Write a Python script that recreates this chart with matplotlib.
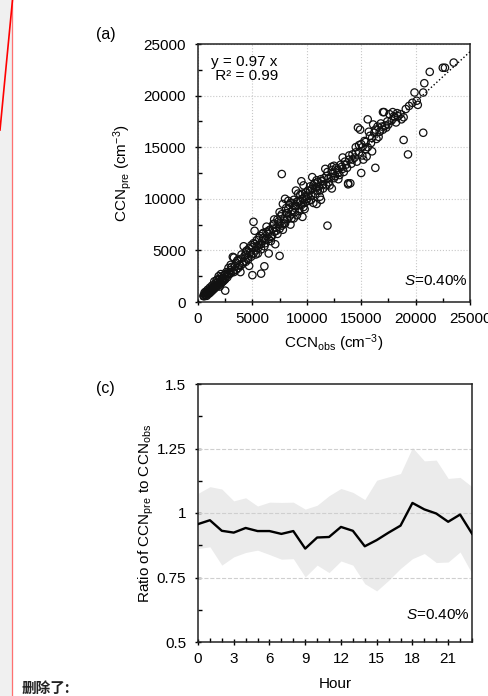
import matplotlib.pyplot as plt
from matplotlib.lines import Line2D
from matplotlib.patches import Rectangle

plt.rcParams['font.family'] = ['Liberation Sans', 'DejaVu Sans']
plt.rcParams['mathtext.fontset'] = 'custom'
plt.rcParams['mathtext.rm'] = 'Liberation Sans'
plt.rcParams['mathtext.it'] = 'Liberation Sans:italic'
plt.rcParams['mathtext.default'] = 'regular'

obsK = [0.5, 0.6, 0.7, 0.8, 0.9, 1.0, 1.1, 1.2, 1.3, 1.4, 1.5, 1.6, 1.7, 1.8, 1.9, 2.0, 2.1, 2.2, 2.3, 2.4,
        2.5, 2.6, 2.7, 2.8, 2.9, 3.0, 0.6, 0.8, 1.0, 1.2, 1.4, 1.6, 1.8, 2.0, 2.2, 2.4, 0.7, 0.9, 1.1, 1.3,
        1.5, 1.7, 1.9, 2.1, 2.3, 2.5, 2.5,
        3.2, 3.4, 3.5, 3.6, 3.8, 4.0, 4.1, 4.3, 4.4, 4.5, 4.6, 4.8, 4.9, 5.0, 5.1, 5.2, 5.3, 5.4, 5.5, 5.6,
        5.7, 5.8, 5.9, 6.0, 6.1, 3.3, 3.9, 4.2, 4.7, 5.0, 5.2, 3.0, 3.7, 4.4, 4.9, 5.5, 5.9,
        6.2, 6.4, 6.5, 6.6, 6.8, 6.9, 7.0, 7.2, 7.3, 7.4, 7.5, 7.6, 7.7, 7.8, 7.9, 8.0, 8.1, 8.2, 8.3, 8.4,
        8.5, 8.6, 8.7, 8.8, 8.9, 9.0, 9.1, 9.2, 9.3, 9.4, 9.5, 9.6, 9.7, 9.8, 9.9, 10.0, 6.3, 6.7, 7.1, 7.5,
        8.0, 8.5, 8.8, 9.0, 9.5, 6.5, 7.0, 7.8, 8.3, 9.2, 9.8,
        10.1, 10.2, 10.3, 10.4, 10.5, 10.6, 10.7, 10.8, 10.9, 11.0, 11.1, 11.2, 11.4, 11.5, 11.6, 11.8, 11.9,
        12.0, 12.2, 12.3, 12.4, 12.6, 12.8, 13.0, 13.2, 13.4, 13.5, 13.7, 13.9, 14.0, 14.1, 14.2, 13.8, 12.9,
        11.7, 10.9, 10.5, 12.5, 13.3,
        14.4, 14.5, 14.6, 14.8, 15.0, 15.1, 15.3, 15.4, 15.6, 15.8, 15.9, 16.0, 16.2, 16.4, 16.5, 16.7, 16.8,
        17.0, 17.2, 17.4, 17.6, 17.8, 18.0, 18.2, 18.4, 18.7, 18.9, 19.1, 19.4, 19.7, 20.1, 14.9, 15.2, 16.1,
        16.6, 17.1, 17.3, 17.9, 18.6, 15.5,
        7.7, 11.9, 5.1, 7.5, 6.1, 5.8, 3.2, 20.7, 19.3, 18.9, 21.3, 22.5, 22.7, 23.5, 20.7, 19.9, 20.8, 16.3,
        15.0, 15.6, 14.7, 9.6, 11.3, 12.3, 13.8, 18.3, 17.0, 20.2,
        3.1, 3.3, 3.5, 3.7, 3.9, 4.0, 4.2, 4.4, 4.6, 4.7, 4.9, 5.1, 5.3, 5.4, 5.6, 5.8, 6.0, 6.2, 6.3, 6.5,
        6.7, 6.9, 7.0, 7.2, 7.3, 7.5, 7.7, 7.9, 8.1, 8.2, 8.4, 8.6, 8.7, 8.9, 9.1, 9.3, 9.4, 9.6, 9.7, 9.9,
        10.1, 10.3, 10.4, 10.6, 10.8, 11.0, 11.2, 11.3, 11.5, 11.8, 12.0, 12.1, 12.3, 12.5, 12.7, 12.9, 13.1,
        13.3, 13.6, 13.9, 14.2, 14.5, 14.8, 15.1, 15.4, 15.7, 16.0, 16.3, 16.9, 17.5, 18.1,
        1.0, 1.2, 1.4, 1.6, 1.8, 2.0, 2.2, 2.6, 2.8, 3.0, 0.55, 0.65, 0.75, 0.85]
preK = [0.6, 0.7, 0.6, 0.9, 0.8, 1.1, 0.9, 1.3, 1.1, 1.5, 1.3, 1.8, 1.5, 1.9, 1.6, 2.2, 1.8, 2.5, 2.0, 2.6,
        2.2, 2.9, 2.4, 3.3, 2.7, 2.8, 0.9, 0.6, 0.8, 1.0, 1.2, 1.4, 2.2, 1.5, 1.9, 2.1, 1.0, 1.2, 1.4, 1.6,
        2.0, 2.1, 2.5, 2.7, 2.3, 2.7, 1.1,
        3.0, 3.5, 3.1, 4.0, 3.6, 4.2, 3.7, 4.5, 3.9, 5.0, 4.3, 4.8, 4.4, 5.3, 4.7, 5.6, 5.0, 6.0, 5.2, 5.5,
        6.4, 5.6, 5.9, 6.2, 5.4, 4.3, 2.9, 5.4, 3.5, 2.6, 6.9, 3.6, 3.3, 4.6, 5.5, 4.7, 6.6,
        6.0, 6.6, 6.1, 7.0, 6.4, 7.5, 6.8, 7.2, 6.6, 7.8, 7.1, 8.3, 7.4, 9.5, 8.0, 7.6, 8.6, 8.0, 9.0, 8.3,
        9.6, 8.5, 8.9, 9.9, 8.7, 9.3, 8.4, 9.8, 9.0, 10.4, 9.4, 10.0, 11.3, 9.6, 10.6, 10.0, 7.3, 5.9, 5.6, 8.7,
        10.0, 7.5, 8.1, 10.8, 11.7, 4.7, 8.0, 7.0, 9.8, 10.5, 9.0,
        10.8, 9.8, 11.2, 10.3, 11.0, 9.6, 11.5, 10.5, 11.8, 10.8, 11.2, 10.2, 11.7, 11.0, 12.0, 11.3, 12.6,
        11.6, 12.1, 11.0, 12.5, 12.2, 12.8, 12.3, 13.1, 12.6, 13.6, 13.0, 13.8, 11.5, 13.4, 14.3, 11.4, 11.9,
        12.9, 9.5, 12.1, 13.2, 14.0,
        14.0, 15.0, 13.6, 14.5, 15.3, 14.2, 15.6, 14.8, 15.0, 16.1, 15.4, 14.6, 16.4, 15.8, 17.0, 16.5, 17.3,
        16.7, 17.1, 17.5, 18.2, 17.6, 18.0, 17.4, 18.0, 17.7, 17.9, 18.7, 19.0, 19.3, 19.5, 16.7, 13.8, 17.2,
        16.0, 18.4, 16.9, 18.4, 18.2, 14.1,
        12.4, 7.4, 7.77, 4.47, 3.46, 2.75, 4.37, 16.4, 14.3, 15.7, 22.3, 22.7, 22.7, 23.2, 20.3, 20.3, 21.2,
        13.0, 12.5, 17.7, 16.9, 8.25, 9.9, 13.1, 11.5, 18.3, 18.4, 19.1,
        3.4, 2.9, 3.8, 4.1, 3.5, 4.6, 3.9, 4.9, 4.1, 5.2, 4.6, 5.7, 4.6, 5.4, 6.2, 5.1, 6.7, 5.7, 6.8, 6.9,
        6.3, 7.1, 7.6, 6.9, 8.0, 7.5, 8.5, 7.6, 9.1, 8.6, 9.4, 8.1, 9.6, 9.3, 9.7, 8.8, 9.8, 10.5, 9.2, 10.2,
        10.3, 10.8, 9.9, 11.3, 11.1, 11.6, 10.8, 11.9, 11.4, 12.2, 12.0, 11.3, 12.8, 12.0, 13.0, 12.5, 13.3,
        12.9, 13.3, 14.2, 13.8, 14.5, 15.2, 15.0, 15.5, 16.5, 15.9, 16.7, 17.0, 17.2, 17.9,
        1.0, 1.2, 1.4, 1.6, 1.7, 1.9, 2.2, 2.5, 2.8, 3.1, 0.55, 0.75, 0.8, 0.95]
obs = [v * 1000 for v in obsK]
pre = [v * 1000 for v in preK]
slope = 0.97

# panel (c): diurnal ratio of CCN_pre to CCN_obs
hours = list(range(24))
ratioMean = [0.957, 0.972, 0.931, 0.924, 0.942, 0.930, 0.930, 0.919, 0.930, 0.862, 0.905, 0.907,
             0.946, 0.931, 0.871, 0.895, 0.924, 0.951, 1.039, 1.014, 0.998, 0.966, 0.994, 0.920]
ratioUpper = [1.076, 1.102, 1.093, 1.047, 1.059, 1.027, 1.042, 1.041, 1.042, 1.015, 1.030, 1.067,
              1.095, 1.080, 1.052, 1.127, 1.140, 1.153, 1.254, 1.202, 1.205, 1.134, 1.138, 1.102]
ratioLower = [0.862, 0.869, 0.798, 0.830, 0.847, 0.856, 0.839, 0.821, 0.823, 0.752, 0.798, 0.769,
              0.814, 0.798, 0.726, 0.698, 0.739, 0.785, 0.823, 0.843, 0.808, 0.810, 0.849, 0.765]

W, H = 489, 696
fig = plt.figure(figsize=(W / 100, H / 100), dpi=100)
fig.patch.set_facecolor('white')

# word-processor margin decorations
fig.patches.append(Rectangle((0, 0), 12 / W, 1, transform=fig.transFigure, color='#f0f0f0', zorder=0))
fig.lines.append(Line2D([12.5 / W, 12.5 / W], [0, 1], transform=fig.transFigure, color='#ff7070', lw=0.9))
fig.lines.append(Line2D([12.5 / W, 0], [1, 1 - 130 / H], transform=fig.transFigure, color='red', lw=1.2))
fig.text(22 / W, 1 - 688 / H, '删除了:', family=['Noto Sans CJK SC', 'DejaVu Sans'], fontsize=10.5,
         fontweight='bold', va='center', ha='left', color='#222222')

fs = 11

def styleAxes(ax):
    for s in ax.spines.values():
        s.set_linewidth(1.1)
        s.set_color('#222222')
    ax.tick_params(which='major', direction='inout', length=5, width=1, labelsize=fs)
    ax.tick_params(which='minor', direction='in', length=3, width=1)
    ax.tick_params(axis='y', which='major', pad=6)
    ax.tick_params(axis='x', which='major', pad=5)

# (a) scatter
ax1 = fig.add_axes([198 / W, 1 - 302 / H, 272 / W, 258 / H])
ax1.plot([0, 25000], [0, slope * 25000], ls=':', color='black', lw=1.0, zorder=3)
ax1.scatter(obs, pre, s=28, facecolors='none', edgecolors='#111111', linewidths=0.9, zorder=4)
ax1.set_xlim(0, 25000)
ax1.set_ylim(0, 25000)
ax1.set_xticks(range(0, 25001, 5000))
ax1.set_yticks(range(0, 25001, 5000))
ax1.set_xticks(range(2500, 25000, 5000), minor=True)
ax1.set_yticks(range(2500, 25000, 5000), minor=True)
ax1.grid(True, which='major', ls=':', color='#c8c8c8', lw=0.8)
ax1.set_axisbelow(True)
styleAxes(ax1)
ax1.set_xlabel('CCN$_{obs}$ (cm$^{-3}$)', fontsize=fs)
ax1.set_ylabel('CCN$_{pre}$ (cm$^{-3}$)', fontsize=fs)
ax1.xaxis.set_label_coords(0.5, -0.118)
ax1.yaxis.set_label_coords(-0.235, 0.5)
ax1.text(13 / 272, 1 - 11 / 258, 'y = 0.97 x\n R² = 0.99', transform=ax1.transAxes, fontsize=fs,
         va='top', ha='left', linespacing=1.0)
ax1.text(0.99, 0.08, '$\\mathit{S}$=0.40%', transform=ax1.transAxes, fontsize=fs, ha='right', va='center')
fig.text(96 / W, 1 - 35 / H, '(a)', fontsize=11.5, ha='left', va='center')

# (c) diurnal ratio
ax2 = fig.add_axes([198 / W, 1 - 642 / H, 274 / W, 258 / H])
ax2.fill_between(hours, ratioLower, ratioUpper, color='#ebebeb', lw=0, zorder=1)
ax2.plot(hours, ratioMean, color='black', lw=1.7, zorder=3)
for yv in [0.75, 1.0, 1.25]:
    ax2.axhline(yv, ls='--', color='#cfcfcf', lw=0.8, zorder=2)
ax2.set_xlim(0, 23)
ax2.set_ylim(0.5, 1.5)
ax2.set_xticks(range(0, 22, 3))
ax2.set_xticks(range(0, 24), minor=True)
ax2.set_yticks([0.5, 0.75, 1.0, 1.25, 1.5])
ax2.set_yticklabels(['0.5', '0.75', '1', '1.25', '1.5'])
ax2.set_yticks([0.625, 0.875, 1.125, 1.375], minor=True)
styleAxes(ax2)
ax2.set_xlabel('Hour', fontsize=fs)
ax2.set_ylabel('Ratio of CCN$_{pre}$ to CCN$_{obs}$', fontsize=fs)
ax2.xaxis.set_label_coords(0.5, -0.136)
ax2.yaxis.set_label_coords(-0.155, 0.5)
ax2.text(0.99, 0.105, '$\\mathit{S}$=0.40%', transform=ax2.transAxes, fontsize=fs, ha='right', va='center')
fig.text(96 / W, 1 - 388 / H, '(c)', fontsize=11.5, ha='left', va='center')

fig.savefig('out.png', dpi=100)
